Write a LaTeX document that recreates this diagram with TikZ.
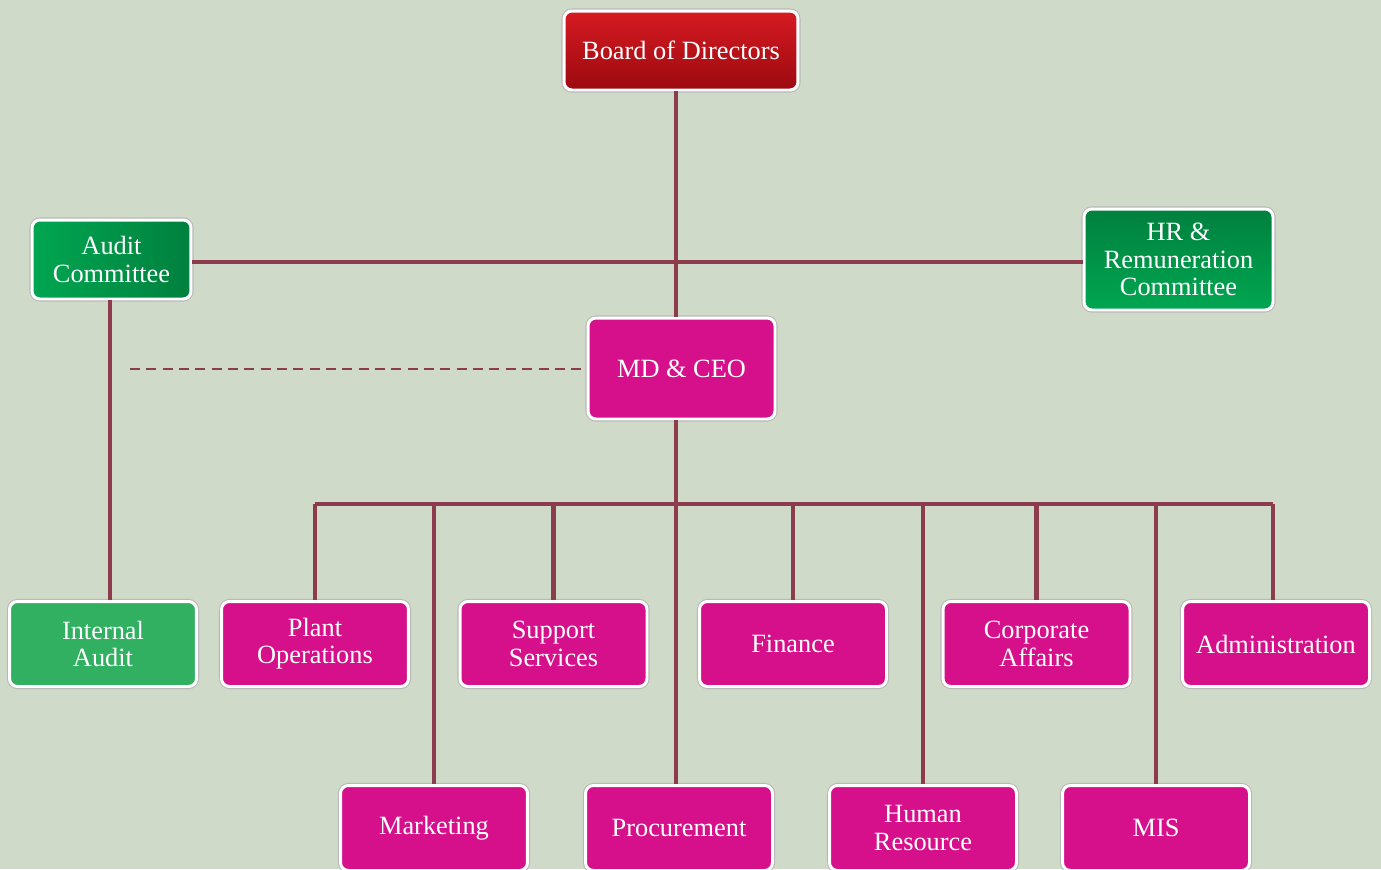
\documentclass[tikz,border=0pt]{standalone}
\usepackage{fontspec}
\setmainfont{Liberation Serif}
\usetikzlibrary{positioning}
\definecolor{bgsage}{RGB}{208,218,200}
\definecolor{linkred}{RGB}{140,60,76}
\definecolor{deptmag}{RGB}{213,16,138}
\definecolor{iagreen}{RGB}{48,176,96}
\definecolor{boardtop}{RGB}{214,26,34}
\definecolor{boardbot}{RGB}{156,10,16}
\definecolor{comlight}{RGB}{0,166,81}
\definecolor{comdark}{RGB}{0,128,62}
\tikzset{
	orgbox/.style={rounded corners=4.5pt, text=white, align=center, font=\fontsize{15}{15.5}\selectfont, inner sep=2pt,
		preaction={draw=gray!55, line width=2.9pt}, draw=white, line width=1.7pt},
	deptbox/.style={orgbox, fill=#1, minimum width=3.74cm, minimum height=1.7cm},
	orgline/.style={draw=linkred, line width=2.3pt},
	dotline/.style={draw=linkred, line width=1.4pt, dash pattern=on 5.7pt off 3.6pt},
}

\begin{document}
\begin{tikzpicture}[x=0.02cm, y=-0.02cm]
	\fill[bgsage] (0,0) rectangle (1381,869);
	\clip (0,0) rectangle (1381,869);
	% top of the chart
	\node[orgbox, top color=boardtop, bottom color=boardbot, minimum width=4.68cm, minimum height=1.58cm] (board) at (681,50.5) {Board of Directors};
	\node[orgbox, left color=comlight, right color=comdark, minimum width=3.18cm, minimum height=1.58cm] (acom) at (111.5,259.5) {Audit\\Committee};
	\node[orgbox, top color=comdark, bottom color=comlight, minimum width=3.78cm, minimum height=2.02cm] (hrcom) at (1178.5,259.5) {HR \&\\Remuneration\\Committee};
	\node[deptbox=deptmag, minimum height=2.02cm] (ceo) at (681.5,368.5) {MD \& CEO};
	\coordinate (hub) at (676,262);
	\coordinate (bus) at (676,504);
	\coordinate (dashend) at (130,369);
	% first row
	\node[deptbox=iagreen] (iaudit) at (103,644) {Internal\\Audit};
	\node[deptbox=deptmag] (plant) at (315,644) {Plant\\Operations};
	\node[deptbox=deptmag] (support) at (553.5,644) {Support\\Services};
	\node[deptbox=deptmag] (finance) at (793,644) {Finance};
	\node[deptbox=deptmag] (corp) at (1036.5,644) {Corporate\\Affairs};
	\node[deptbox=deptmag] (admin) at (1276,644) {Administration};
	% second row
	\node[deptbox=deptmag] (mkt) at (434,828) {Marketing};
	\node[deptbox=deptmag] (proc) at (679,828) {Procurement};
	\node[deptbox=deptmag] (hres) at (923,828) {Human\\Resource};
	\node[deptbox=deptmag] (mis) at (1156,828) {MIS};
	% connectors
	\draw[orgline] (board.south -| hub) -- (ceo.north -| hub);
	\draw[orgline] (acom.east |- hub) -- (hrcom.west |- hub);
	\draw[orgline] (acom.south -| 110,0) -- (iaudit.north -| 110,0);
	\draw[dotline] (dashend) -- (ceo.west |- dashend);
	\draw[orgline] (ceo.south -| bus) -- (bus);
	\draw[orgline] (bus -| plant) -- (bus -| 1273,0);
	\foreach \d in {plant,support,finance,corp}
		\draw[orgline] (bus -| \d) -- (\d.north);
	\draw[orgline] (bus -| 1273,0) -- (admin.north -| 1273,0);
	\foreach \d in {mkt,hres,mis}
		\draw[orgline] (bus -| \d) -- (\d.north);
	\draw[orgline] (bus) -- (proc.north -| bus);
\end{tikzpicture}
\end{document}
